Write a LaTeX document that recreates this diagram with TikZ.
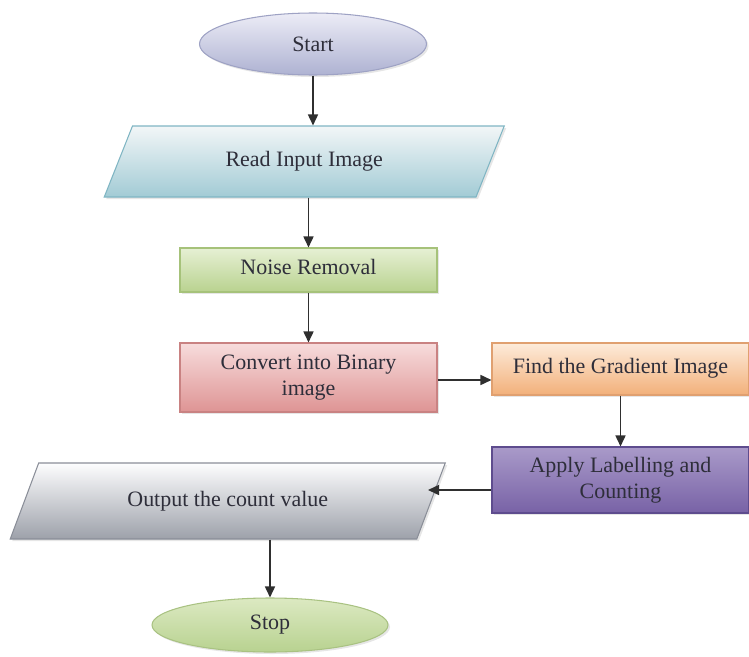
\documentclass[tikz,border=0pt]{standalone}
\usepackage{fontspec}
\setmainfont{Liberation Serif}
\usetikzlibrary{shapes.geometric,arrows.meta,shadows}
\definecolor{txt}{HTML}{2E2E3A}
\definecolor{lne}{HTML}{2F2F2F}
% fills: top / bottom / border
\definecolor{startT}{HTML}{ECECF6}\definecolor{startB}{HTML}{AEB2D2}\definecolor{startD}{HTML}{9EA2C4}
\definecolor{readT}{HTML}{F2F6F7}\definecolor{readB}{HTML}{A2CBD5}\definecolor{readD}{HTML}{7FB5C3}
\definecolor{noiseT}{HTML}{E6F0D4}\definecolor{noiseB}{HTML}{B9D28F}\definecolor{noiseD}{HTML}{A6C27A}
\definecolor{convT}{HTML}{F7DCDC}\definecolor{convB}{HTML}{DE9494}\definecolor{convD}{HTML}{C98282}
\definecolor{findT}{HTML}{FDEBDA}\definecolor{findB}{HTML}{F2B07A}\definecolor{findD}{HTML}{E0A070}
\definecolor{applyT}{HTML}{A99AC9}\definecolor{applyB}{HTML}{7862A6}\definecolor{applyD}{HTML}{5E4C8E}
\definecolor{outT}{HTML}{FDFDFE}\definecolor{outB}{HTML}{9DA1AA}\definecolor{outD}{HTML}{8A8E98}
\definecolor{stopT}{HTML}{DCE9C2}\definecolor{stopB}{HTML}{B8D290}\definecolor{stopD}{HTML}{A9C282}
\begin{document}
\begin{tikzpicture}[
  font=\fontsize{12.5}{15}\selectfont, text=txt,
  term/.style={ellipse, draw=#1D, top color=#1T, bottom color=#1B, line width=0.6pt, inner sep=0pt},
  io/.style={trapezium, trapezium stretches body, draw=#1D, top color=#1T, bottom color=#1B, line width=0.6pt, inner sep=0pt},
  proc/.style={rectangle, draw=#1D, top color=#1T, bottom color=#1B, line width=0.6pt, inner sep=0pt, minimum width=5.14cm, align=center},
  shd/.style={drop shadow={opacity=0.2, shadow xshift=0.04cm, shadow yshift=-0.04cm}},
  arr/.style={-{Triangle[length=2.2mm,width=2mm]}, draw=lne, line width=0.9pt}
]
\useasboundingbox (0,0) rectangle (14.98,13.12);
% terminals
\node[term=start, minimum width=4.54cm, minimum height=1.24cm, shd] (start) at (6.26,12.24) {Start};
\node[term=stop, minimum width=4.72cm, minimum height=1.08cm, shd] (stop) at (5.4,0.62) {Stop};
% input / output
\node[io=read, trapezium left angle=36, trapezium right angle=144, minimum width=8cm, minimum height=1.42cm, shd] (read) at (6.085,9.89) {\raisebox{3pt}{Read Input Image}};
\node[io=out, trapezium left angle=35, trapezium right angle=145, minimum width=8.7cm, minimum height=1.52cm, shd] (output) at (4.555,3.1) {\raisebox{2pt}{Output the count value}};
% processes
\node[proc=noise, minimum height=0.88cm, shd] (noise) at (6.17,7.72) {\raisebox{3pt}{Noise Removal}};
\node[proc=conv, minimum height=1.38cm, shd] (convert) at (6.17,5.57) {Convert into Binary\\image};
\node[proc=find, minimum height=1.04cm, shd] (find) at (12.41,5.74) {\raisebox{4pt}{Find the Gradient Image}};
\node[proc=apply, minimum height=1.32cm, shd] (apply) at (12.41,3.52) {Apply Labelling and\\Counting};
% connectors
\draw[arr] (start.south) -- (start.south |- read.north);
\draw[arr] (noise.north |- read.south) -- (noise.north);
\draw[arr] (noise) -- (convert);
\draw[arr] ([yshift=-0.05cm]convert.east) -- ([yshift=-0.05cm]convert.east -| find.west);
\draw[arr] (find) -- (apply);
\coordinate (applyout) at ([yshift=-0.2cm]apply.west);
\coordinate (outcorner) at ([xshift=-0.36cm]output.top right corner);
\coordinate (outin) at (outcorner |- applyout);
\draw[arr] (applyout) -- (outin);
\draw[arr] (stop.north |- output.south) -- (stop.north);
\end{tikzpicture}
\end{document}
